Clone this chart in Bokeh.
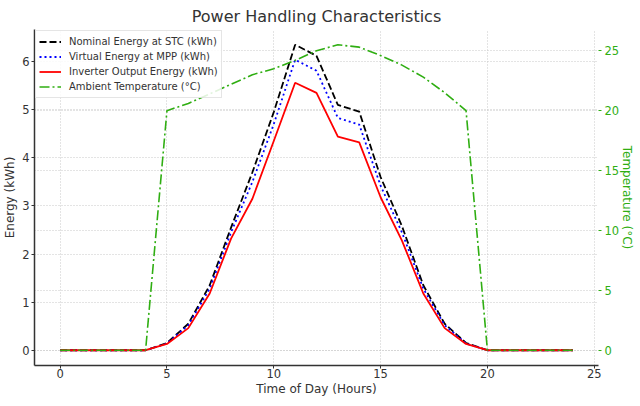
from bokeh.plotting import figure
from bokeh.models import (Range1d, LinearAxis, FixedTicker, Grid, Legend, LegendItem)
from bokeh.embed import file_html
from bokeh.resources import INLINE

hours = list(range(25))
nominal = [0, 0, 0, 0, 0, 0.15, 0.55, 1.35, 2.55, 3.7, 4.95, 6.35, 6.12, 5.1, 4.96,
           3.6, 2.58, 1.35, 0.55, 0.15, 0, 0, 0, 0, 0]
virtual = [0, 0, 0, 0, 0, 0.14, 0.52, 1.28, 2.45, 3.5, 4.7, 6.04, 5.81, 4.83, 4.69,
           3.42, 2.45, 1.28, 0.52, 0.14, 0, 0, 0, 0, 0]
inverter = [0, 0, 0, 0, 0, 0.13, 0.46, 1.18, 2.32, 3.15, 4.35, 5.56, 5.35, 4.44, 4.32,
            3.18, 2.28, 1.18, 0.46, 0.13, 0, 0, 0, 0, 0]
temperature = [0, 0, 0, 0, 0, 20.0, 20.6, 21.4, 22.2, 23.0, 23.5, 24.2, 25.0, 25.5, 25.3,
               24.6, 23.8, 22.8, 21.5, 20.0, 0, 0, 0, 0, 0]

x_ticks = [0, 5, 10, 15, 20, 25]
energy_ticks = [0, 1, 2, 3, 4, 5, 6]
temp_ticks = [0, 5, 10, 15, 20, 25]

FONT = "DejaVu Sans"
TXT = "#333333"
GREEN = "#2fae12"

p = figure(frame_width=564, frame_height=336, output_backend="svg", toolbar_location=None,
           x_range=Range1d(-1.2, 25.2), y_range=Range1d(-0.3175, 6.6675),
           title="Power Handling Characteristics",
           min_border_left=0, min_border_right=0, min_border_top=0, min_border_bottom=0)
p.extra_y_ranges = {"temp": Range1d(-1.275, 26.775)}

p.title.align = "center"
p.title.text_font = FONT
p.title.text_font_size = "16px"
p.title.text_font_style = "normal"
p.title.text_color = TXT
p.title.standoff = 8
p.outline_line_color = None
p.background_fill_color = "white"

def style_axis(ax, color=TXT, line=True, label_standoff=2, title_standoff=0):
    ax.major_label_text_font = FONT
    ax.major_label_text_font_size = "11.5px"
    ax.major_label_text_color = color
    ax.axis_label_text_font = FONT
    ax.axis_label_text_font_size = "12px"
    ax.axis_label_text_font_style = "normal"
    ax.axis_label_text_color = color
    ax.major_tick_out = 3
    ax.major_tick_in = 0
    ax.minor_tick_out = 0
    ax.minor_tick_in = 0
    ax.major_label_standoff = label_standoff
    ax.axis_label_standoff = title_standoff
    ax.major_tick_line_color = color
    if line:
        ax.axis_line_color = "#333333"
        ax.axis_line_width = 1.5
    else:
        ax.axis_line_color = None

p.xaxis.ticker = FixedTicker(ticks=x_ticks)
p.xaxis.axis_label = "Time of Day (Hours)"
style_axis(p.xaxis[0], label_standoff=0, title_standoff=1)
p.yaxis.ticker = FixedTicker(ticks=energy_ticks)
p.yaxis.axis_label = "Energy (kWh)"
style_axis(p.yaxis[0], label_standoff=2, title_standoff=2)

right = LinearAxis(y_range_name="temp", ticker=FixedTicker(ticks=temp_ticks),
                   axis_label="Temperature (°C)")
style_axis(right, color=GREEN, line=False, label_standoff=3, title_standoff=-2)
p.add_layout(right, "right")

for g in (p.xgrid[0], p.ygrid[0]):
    g.grid_line_color = "#c8c8c8"
    g.grid_line_dash = "1 2"
    g.grid_line_width = 1
p.xgrid[0].ticker = FixedTicker(ticks=x_ticks)
p.ygrid[0].ticker = FixedTicker(ticks=energy_ticks)

tgrid = Grid(dimension=1, ticker=FixedTicker(ticks=temp_ticks), y_range_name="temp",
             grid_line_color="#c8c8c8", grid_line_dash="1 2", grid_line_width=1)
p.add_layout(tgrid)

r1 = p.line(hours, nominal, line_color="black", line_width=1.8, line_dash="7 3")
r2 = p.line(hours, virtual, line_color="#0000ff", line_width=1.8, line_dash="2 3")
r3 = p.line(hours, inverter, line_color="#ff0000", line_width=1.8)
r4 = p.line(hours, temperature, line_color=GREEN, line_width=1.6,
            line_dash="10 3 2 3", y_range_name="temp")

legend = Legend(items=[
    LegendItem(label="Nominal Energy at STC (kWh)", renderers=[r1]),
    LegendItem(label="Virtual Energy at MPP (kWh)", renderers=[r2]),
    LegendItem(label="Inverter Output Energy (kWh)", renderers=[r3]),
    LegendItem(label="Ambient Temperature (°C)", renderers=[r4]),
], location="top_left")
legend.label_text_font = FONT
legend.label_text_font_size = "10px"
legend.label_text_color = TXT
legend.glyph_width = 22
legend.glyph_height = 15
legend.label_height = 15
legend.label_standoff = 8
legend.spacing = 0
legend.padding = 3
legend.margin = 1
legend.border_line_color = "#cccccc"
legend.background_fill_alpha = 0.85
p.add_layout(legend, "center")

open("out.html", "w").write(file_html(p, INLINE))
